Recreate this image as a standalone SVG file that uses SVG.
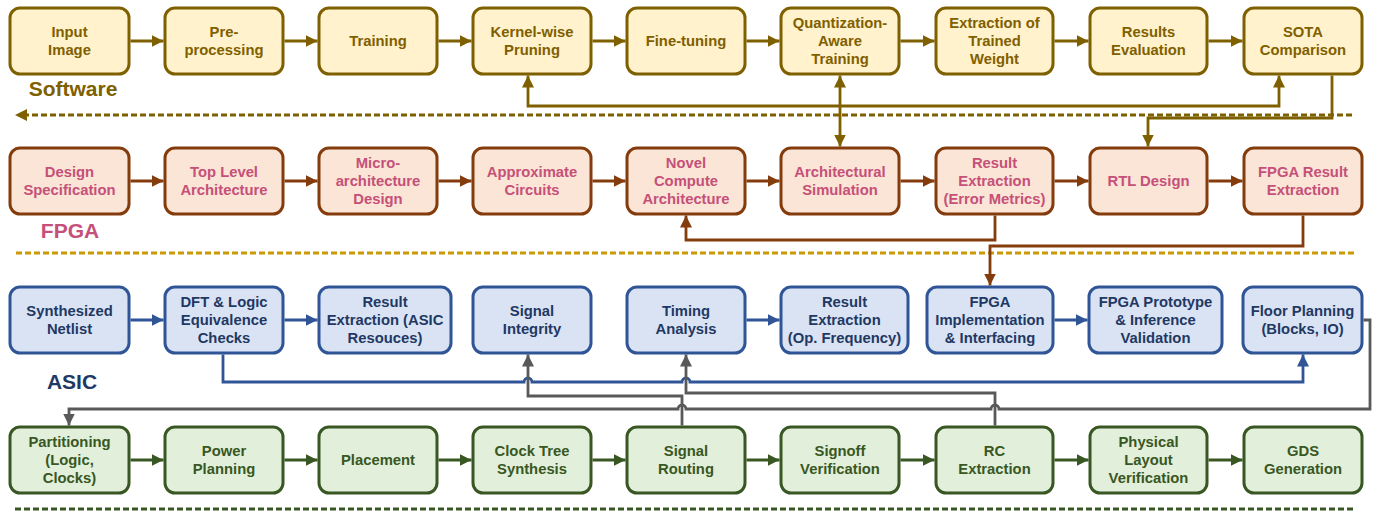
<svg xmlns="http://www.w3.org/2000/svg" width="1373" height="512" viewBox="0 0 1373 512">
<style>
rect.n{stroke-width:3}
text{font-family:"Liberation Sans",Arial,sans-serif;font-weight:bold;font-size:14.8px;text-anchor:middle}
.sw rect{fill:#fff2cc;stroke:#7f6000}.sw text{fill:#7f6000}
.fp rect{fill:#fbe5d6;stroke:#843c0c}.fp text{fill:#c55079}
.as rect{fill:#dae3f3;stroke:#2f5597}.as text{fill:#1f3864}
.gr rect{fill:#e2efda;stroke:#385723}.gr text{fill:#385723}
.lbl{font-size:21px}
.c{fill:none;stroke-width:2.8}
.cy{stroke:#7f6000}.cb{stroke:#843c0c}.cl{stroke:#2f5597}.cg{stroke:#385723}.cgr{stroke:#595959}
</style>
<defs>
<marker id="ay" markerUnits="userSpaceOnUse" markerWidth="13" markerHeight="13" refX="12" refY="6" orient="auto-start-reverse"><path d="M0,0 L12,6 L0,12 z" fill="#7f6000"/></marker>
<marker id="ab" markerUnits="userSpaceOnUse" markerWidth="13" markerHeight="13" refX="12" refY="6" orient="auto-start-reverse"><path d="M0,0 L12,6 L0,12 z" fill="#843c0c"/></marker>
<marker id="al" markerUnits="userSpaceOnUse" markerWidth="13" markerHeight="13" refX="12" refY="6" orient="auto-start-reverse"><path d="M0,0 L12,6 L0,12 z" fill="#2f5597"/></marker>
<marker id="ag" markerUnits="userSpaceOnUse" markerWidth="13" markerHeight="13" refX="12" refY="6" orient="auto-start-reverse"><path d="M0,0 L12,6 L0,12 z" fill="#385723"/></marker>
<marker id="agr" markerUnits="userSpaceOnUse" markerWidth="13" markerHeight="13" refX="12" refY="6" orient="auto-start-reverse"><path d="M0,0 L12,6 L0,12 z" fill="#595959"/></marker>
</defs>

<!-- section labels and separators -->
<g id="labels">
<text class="lbl" x="73" y="95.5" fill="#7f6000">Software</text>
<text class="lbl" x="70" y="238" fill="#c55079">FPGA</text>
<text class="lbl" x="72" y="389" fill="#1f3864">ASIC</text>
</g>
<g id="separators" fill="none" stroke-width="3" stroke-dasharray="6 3">
<path d="M1352,115 H26" stroke="#7f6000"/>
<path d="M15,115 L27,109 L27,121 z" fill="#7f6000" stroke="none"/>
<path d="M16,253 H1355" stroke="#cc9a06"/>
<path d="M15,509 H1354" stroke="#385723"/>
</g>

<!-- connectors -->
<g id="connectors">
<!-- software row -->
<g class="c cy" marker-end="url(#ay)">
<path d="M130.5,41 H163.5"/><path d="M284.5,41 H317.5"/><path d="M438.5,41 H471.5"/><path d="M592.5,41 H625.5"/><path d="M746.5,41 H779.5"/><path d="M900.5,41 H934.5"/><path d="M1054.5,41 H1088.5"/><path d="M1208.5,41 H1242.5"/>
</g>
<path class="c cy" d="M528,75.5 V106 H1279 V75.5" marker-start="url(#ay)" marker-end="url(#ay)"/>
<path class="c cy" d="M840,75.5 V146.5" marker-start="url(#ay)" marker-end="url(#ay)"/>
<path class="c cy" d="M1332,75.5 V118 H1148 V146.5" marker-end="url(#ay)"/>
<!-- fpga row -->
<g class="c cb" marker-end="url(#ab)">
<path d="M130.5,181 H163.5"/><path d="M284.5,181 H317.5"/><path d="M438.5,181 H471.5"/><path d="M592.5,181 H625.5"/><path d="M746.5,181 H779.5"/><path d="M900.5,181 H934.5"/><path d="M1054.5,181 H1088.5"/><path d="M1208.5,181 H1242.5"/>
</g>
<path class="c cb" d="M995,215.5 V240 H686 V215.5" marker-end="url(#ab)"/>
<path class="c cb" d="M1303,215.5 V246 H990 V285.5" marker-end="url(#ab)"/>
<!-- asic row -->
<g class="c cl" marker-end="url(#al)">
<path d="M130.5,320 H163.5"/><path d="M284.5,320 H317.5"/><path d="M746.5,320 H779.5"/><path d="M1054.5,320 H1087.5"/>
</g>
<path class="c cl" d="M223,354.5 V382 H524 A4,4 0 0 1 532,382 H682 A4,4 0 0 1 690,382 H1303 V354.5" marker-end="url(#al)"/>
<!-- gray -->
<path class="c cgr" d="M1363.5,320 H1370 V409 H999 A4,4 0 0 0 991,409 H686 A4,4 0 0 0 678,409 H69 V425.5" marker-end="url(#agr)"/>
<path class="c cgr" d="M682,425.5 V396 H528 V354.5" marker-end="url(#agr)"/>
<path class="c cgr" d="M995,425.5 V393 H686 V354.5" marker-end="url(#agr)"/>
<!-- green row -->
<g class="c cg" marker-end="url(#ag)">
<path d="M130.5,460 H163.5"/><path d="M284.5,460 H317.5"/><path d="M438.5,460 H471.5"/><path d="M592.5,460 H625.5"/><path d="M746.5,460 H779.5"/><path d="M900.5,460 H934.5"/><path d="M1054.5,460 H1088.5"/><path d="M1208.5,460 H1242.5"/>
</g>
</g>

<!-- Software nodes -->
<g class="sw">
<g id="input-image"><rect class="n" x="10" y="8" width="119" height="66" rx="10"/><text x="69.5" y="37.2">Input</text><text x="69.5" y="54.9">Image</text></g>
<g id="pre-processing"><rect class="n" x="165" y="8" width="118" height="66" rx="10"/><text x="224" y="37.2">Pre-</text><text x="224" y="54.9">processing</text></g>
<g id="training"><rect class="n" x="319" y="8" width="118" height="66" rx="10"/><text x="378" y="46">Training</text></g>
<g id="kernel-pruning"><rect class="n" x="473" y="8" width="118" height="66" rx="10"/><text x="532" y="37.2">Kernel-wise</text><text x="532" y="54.9">Pruning</text></g>
<g id="fine-tuning"><rect class="n" x="627" y="8" width="118" height="66" rx="10"/><text x="686" y="46">Fine-tuning</text></g>
<g id="qat"><rect class="n" x="781" y="8" width="118" height="66" rx="10"/><text x="840" y="28.3">Quantization-</text><text x="840" y="46">Aware</text><text x="840" y="63.7">Training</text></g>
<g id="extract-weight"><rect class="n" x="936" y="8" width="117" height="66" rx="10"/><text x="994.5" y="28.3">Extraction of</text><text x="994.5" y="46">Trained</text><text x="994.5" y="63.7">Weight</text></g>
<g id="results-eval"><rect class="n" x="1090" y="8" width="117" height="66" rx="10"/><text x="1148.5" y="37.2">Results</text><text x="1148.5" y="54.9">Evaluation</text></g>
<g id="sota"><rect class="n" x="1244" y="8" width="118" height="66" rx="10"/><text x="1303" y="37.2">SOTA</text><text x="1303" y="54.9">Comparison</text></g>
</g>

<!-- FPGA nodes -->
<g class="fp">
<g id="design-spec"><rect class="n" x="10" y="148" width="119" height="66" rx="10"/><text x="69.5" y="177.2">Design</text><text x="69.5" y="194.9">Specification</text></g>
<g id="top-level"><rect class="n" x="165" y="148" width="118" height="66" rx="10"/><text x="224" y="177.2">Top Level</text><text x="224" y="194.9">Architecture</text></g>
<g id="micro-arch"><rect class="n" x="319" y="148" width="118" height="66" rx="10"/><text x="378" y="168.3">Micro-</text><text x="378" y="186">architecture</text><text x="378" y="203.7">Design</text></g>
<g id="approx-circuits"><rect class="n" x="473" y="148" width="118" height="66" rx="10"/><text x="532" y="177.2">Approximate</text><text x="532" y="194.9">Circuits</text></g>
<g id="novel-compute"><rect class="n" x="627" y="148" width="118" height="66" rx="10"/><text x="686" y="168.3">Novel</text><text x="686" y="186">Compute</text><text x="686" y="203.7">Architecture</text></g>
<g id="arch-sim"><rect class="n" x="781" y="148" width="118" height="66" rx="10"/><text x="840" y="177.2">Architectural</text><text x="840" y="194.9">Simulation</text></g>
<g id="result-error"><rect class="n" x="936" y="148" width="117" height="66" rx="10"/><text x="994.5" y="168.3">Result</text><text x="994.5" y="186">Extraction</text><text x="994.5" y="203.7">(Error Metrics)</text></g>
<g id="rtl-design"><rect class="n" x="1090" y="148" width="117" height="66" rx="10"/><text x="1148.5" y="186">RTL Design</text></g>
<g id="fpga-result"><rect class="n" x="1244" y="148" width="118" height="66" rx="10"/><text x="1303" y="177.2">FPGA Result</text><text x="1303" y="194.9">Extraction</text></g>
</g>

<!-- ASIC nodes -->
<g class="as">
<g id="synth-netlist"><rect class="n" x="10" y="287" width="119" height="66" rx="10"/><text x="69.5" y="316.2">Synthesized</text><text x="69.5" y="333.9">Netlist</text></g>
<g id="dft-lec"><rect class="n" x="165" y="287" width="118" height="66" rx="10"/><text x="224" y="307.3">DFT &amp; Logic</text><text x="224" y="325">Equivalence</text><text x="224" y="342.7">Checks</text></g>
<g id="result-asic"><rect class="n" x="319" y="287" width="132" height="66" rx="10"/><text x="385" y="307.3">Result</text><text x="385" y="325">Extraction (ASIC</text><text x="385" y="342.7">Resouces)</text></g>
<g id="signal-integrity"><rect class="n" x="473" y="287" width="118" height="66" rx="10"/><text x="532" y="316.2">Signal</text><text x="532" y="333.9">Integrity</text></g>
<g id="timing-analysis"><rect class="n" x="627" y="287" width="118" height="66" rx="10"/><text x="686" y="316.2">Timing</text><text x="686" y="333.9">Analysis</text></g>
<g id="result-freq"><rect class="n" x="781" y="287" width="127" height="66" rx="10"/><text x="844.5" y="307.3">Result</text><text x="844.5" y="325">Extraction</text><text x="844.5" y="342.7">(Op. Frequency)</text></g>
<g id="fpga-impl"><rect class="n" x="927" y="287" width="126" height="66" rx="10"/><text x="990" y="307.3">FPGA</text><text x="990" y="325">Implementation</text><text x="990" y="342.7">&amp; Interfacing</text></g>
<g id="fpga-proto"><rect class="n" x="1089" y="287" width="133" height="66" rx="10"/><text x="1155.5" y="307.3">FPGA Prototype</text><text x="1155.5" y="325">&amp; Inference</text><text x="1155.5" y="342.7">Validation</text></g>
<g id="floor-planning"><rect class="n" x="1243" y="287" width="119" height="66" rx="10"/><text x="1302.5" y="316.2">Floor Planning</text><text x="1302.5" y="333.9">(Blocks, IO)</text></g>
</g>

<!-- Physical design nodes -->
<g class="gr">
<g id="partitioning"><rect class="n" x="10" y="427" width="119" height="66" rx="10"/><text x="69.5" y="447.3">Partitioning</text><text x="69.5" y="465">(Logic,</text><text x="69.5" y="482.7">Clocks)</text></g>
<g id="power-planning"><rect class="n" x="165" y="427" width="118" height="66" rx="10"/><text x="224" y="456.2">Power</text><text x="224" y="473.9">Planning</text></g>
<g id="placement"><rect class="n" x="319" y="427" width="118" height="66" rx="10"/><text x="378" y="465">Placement</text></g>
<g id="cts"><rect class="n" x="473" y="427" width="118" height="66" rx="10"/><text x="532" y="456.2">Clock Tree</text><text x="532" y="473.9">Synthesis</text></g>
<g id="signal-routing"><rect class="n" x="627" y="427" width="118" height="66" rx="10"/><text x="686" y="456.2">Signal</text><text x="686" y="473.9">Routing</text></g>
<g id="signoff"><rect class="n" x="781" y="427" width="118" height="66" rx="10"/><text x="840" y="456.2">Signoff</text><text x="840" y="473.9">Verification</text></g>
<g id="rc-extraction"><rect class="n" x="936" y="427" width="117" height="66" rx="10"/><text x="994.5" y="456.2">RC</text><text x="994.5" y="473.9">Extraction</text></g>
<g id="physical-verif"><rect class="n" x="1090" y="427" width="117" height="66" rx="10"/><text x="1148.5" y="447.3">Physical</text><text x="1148.5" y="465">Layout</text><text x="1148.5" y="482.7">Verification</text></g>
<g id="gds"><rect class="n" x="1244" y="427" width="118" height="66" rx="10"/><text x="1303" y="456.2">GDS</text><text x="1303" y="473.9">Generation</text></g>
</g>
</svg>
